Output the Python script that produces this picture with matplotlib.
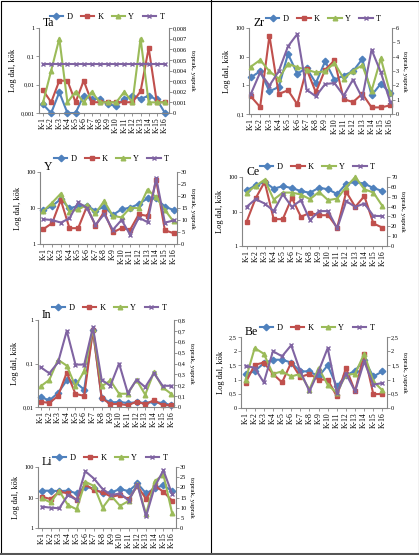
import matplotlib.pyplot as plt
import numpy as np
from matplotlib.lines import Line2D
from matplotlib.ticker import FixedLocator, FuncFormatter, NullLocator

plt.rcParams['font.family'] = ['Liberation Serif', 'DejaVu Serif']

W, H = 419, 555
stations = ["K-%d" % i for i in range(1, 17)]

# D = dal, K = kok (left axis) ; Y = yaprak, T = toprak (right axis)
ta_D = [0.002, 0.001, 0.0054, 0.001, 0.001, 0.0041, 0.0031, 0.0032, 0.002, 0.0018, 0.0032, 0.004, 0.0032, 0.004, 0.003, 0.001]
ta_K = [0.0063, 0.0024, 0.0138, 0.0138, 0.0024, 0.0138, 0.0024, 0.0024, 0.0024, 0.0024, 0.0024, 0.0024, 0.0058, 0.196, 0.0024, 0.0024]
ta_Y = [0.001, 0.004, 0.007, 0.001, 0.002, 0.001, 0.002, 0.001, 0.001, 0.001, 0.002, 0.001, 0.007, 0.001, 0.001, 0.001]
ta_T = [0.0046] * 16

zr_D = [1.9, 3.1, 0.62, 0.87, 12.4, 2.55, 4.0, 1.2, 6.9, 1.58, 2.2, 3.1, 8.3, 0.45, 1.14, 0.54]
zr_K = [0.41, 0.175, 54, 0.5, 0.67, 0.22, 3.7, 0.57, 3.5, 7.4, 0.33, 0.26, 0.51, 0.17, 0.17, 0.2]
zr_Y = [3.3, 3.77, 2.98, 2.47, 3.51, 3.26, 3.09, 2.9, 2.98, 3.56, 2.47, 3.02, 3.4, 1.63, 3.88, 1.47]
zr_T = [1.4, 2.9, 1.98, 2.98, 4.72, 5.58, 1.7, 1.23, 2.09, 2.16, 1.28, 2.4, 1.12, 4.49, 2.9, 0.86]

y_D = [8.8, 11.4, 17.7, 9.8, 11.4, 11.6, 8.4, 10.9, 6.4, 9.2, 10.2, 12.9, 18.5, 18.5, 10.9, 8.8]
y_K = [2.6, 3.8, 16.6, 2.75, 2.75, 10.9, 3.2, 7.9, 2.1, 2.75, 2.5, 6.7, 6.0, 59, 2.4, 2.0]
y_Y = [13.8, 17.2, 21.0, 13.5, 14.4, 16.2, 12.8, 17.9, 11.7, 11.1, 15.1, 14.9, 22.7, 19.4, 14.2, 9.4]
y_T = [10.3, 10.0, 8.9, 10.7, 17.3, 15.1, 8.0, 12.4, 5.9, 10.0, 3.9, 11.0, 9.1, 27.5, 8.9, 9.8]

ce_D = [41, 57, 72, 46, 54, 48, 39, 35, 49, 44, 32, 64, 72, 64, 48, 39]
ce_K = [5.0, 24, 72, 6.0, 6.0, 25, 7.0, 9.2, 7.8, 7.8, 3.4, 37, 13.6, 28, 4.5, 3.4]
ce_Y = [53.9, 60.9, 67.3, 47.1, 54.2, 54.2, 52.2, 47.5, 54.9, 46.5, 48.1, 59.9, 70.0, 57.6, 54.2, 40.4]
ce_T = [39.7, 47.5, 43.1, 35.4, 52.5, 39.7, 46.5, 26.3, 35.4, 35.4, 17.8, 45.5, 39.7, 43.1, 30.6, 30.3]

in_D = [0.017, 0.0142, 0.021, 0.041, 0.037, 0.025, 0.59, 0.016, 0.0128, 0.013, 0.0124, 0.0128, 0.0124, 0.013, 0.0124, 0.011]
in_K = [0.0132, 0.0124, 0.018, 0.062, 0.020, 0.018, 0.59, 0.016, 0.0117, 0.0117, 0.011, 0.0132, 0.0117, 0.0142, 0.011, 0.011]
in_Y = [0.19, 0.25, 0.434, 0.38, 0.19, 0.33, 0.72, 0.19, 0.244, 0.122, 0.122, 0.25, 0.113, 0.32, 0.18, 0.12]
in_T = [0.366, 0.31, 0.41, 0.70, 0.39, 0.39, 0.733, 0.25, 0.195, 0.40, 0.128, 0.25, 0.183, 0.31, 0.195, 0.195]

be_D = [1.2, 1.29, 1.58, 1.7, 1.7, 1.6, 1.29, 1.29, 1.11, 1.5, 0.76, 1.15, 1.31, 1.7, 1.11, 1.29]
be_K = [0.88, 1.52, 1.6, 1.2, 0.9, 1.6, 1.09, 1.2, 1.0, 1.0, 0.41, 1.41, 0.59, 1.91, 0.49, 0.49]
be_Y = [1.0, 2.11, 1.91, 1.2, 1.29, 1.11, 1.2, 0.65, 1.41, 0.82, 0.53, 1.17, 1.2, 1.91, 0.94, 0.62]
be_T = [1.49, 1.41, 0.9, 2.0, 1.82, 2.21, 1.29, 0.59, 1.29, 2.11, 0.53, 1.21, 0.59, 1.64, 0.82, 0.88]

li_D = [16.7, 16.7, 16.2, 16.7, 13.7, 22.5, 19.8, 13.7, 14.7, 18.9, 16.2, 28.8, 13.7, 19.8, 25.4, 16.2]
li_K = [10.6, 8.9, 15.5, 13.7, 8.3, 26.7, 17.5, 14.7, 10.6, 12.1, 8.9, 24.2, 8.9, 24.2, 15.5, 7.9]
li_Y = [14.6, 12.6, 18.2, 11.3, 9.2, 22.7, 20.7, 10.0, 15.7, 10.9, 13.3, 21.6, 6.8, 23.0, 26.3, 7.3]
li_T = [10.5, 10.0, 9.7, 16.2, 13.8, 27.9, 24.3, 19.1, 16.2, 17.0, 13.5, 21.4, 5.7, 20.3, 28.4, 16.7]

COLORS = {"D": "#4F81BD", "K": "#C0504D", "Y": "#9BBB59", "T": "#8064A2"}
MARKERS = {"D": "D", "K": "s", "Y": "^", "T": "x"}
GREY = "#868686"


def comma(v, pos=None):
    return ("%g" % v).replace(".", ",")


# name, plot box px (x0, x1, top, bottom), series, left scale, left lim, right lim/step, x pad, legend y px
panels = [
    ("Ta", (39, 169, 28, 113), (ta_D, ta_K, ta_Y, ta_T), "log", (0.001, 1), (0.008, 0.001), 0.5, 17),
    ("Zr", (249, 392, 28, 114), (zr_D, zr_K, zr_Y, zr_T), "log", (0.1, 100), (6, 1), 0.2, 19),
    ("Y", (40, 177, 172, 244), (y_D, y_K, y_Y, y_T), "log", (1, 100), (30, 5), 0.4, 159),
    ("Ce", (242, 387, 177, 246), (ce_D, ce_K, ce_Y, ce_T), "log", (1, 100), (70, 10), 0.5, 167),
    ("In", (38, 174, 320, 407), (in_D, in_K, in_Y, in_T), "log", (0.01, 1), (0.8, 0.1), 0.3, 308),
    ("Be", (241, 387, 337, 408), (be_D, be_K, be_Y, be_T), "linear", (0, 2.5), (2.5, 0.5), 0.5, 328),
    ("Li", (38, 176, 467, 528), (li_D, li_K, li_Y, li_T), "log", (1, 100), (30, 5), 0.45, 458),
]

fig = plt.figure(figsize=(W / 100, H / 100), dpi=100)
x = np.arange(len(stations))

for name, box, series, scale, llim, rlim, pad, ly in panels:
    x0, x1, top, bot = box
    ax = fig.add_axes([x0 / W, 1 - bot / H, (x1 - x0) / W, (bot - top) / H])
    ax2 = ax.twinx()
    handles = []
    for key, vals, a in zip("DKYT", series, (ax, ax, ax2, ax2)):
        h, = a.plot(x, vals, color=COLORS[key], marker=MARKERS[key], ms=3.3,
                    mec=COLORS[key], mew=1.0, lw=1.5, clip_on=False, label=key)
        handles.append(h)

    ax.set_yscale(scale)
    ax.set_ylim(*llim)
    if scale == "log":
        lt = 10.0 ** np.arange(np.log10(llim[0]), np.log10(llim[1]) + 0.5)
    else:
        lt = np.arange(llim[0], llim[1] + 1e-9, 0.5)
    ax.yaxis.set_major_locator(FixedLocator(lt))
    ax.yaxis.set_minor_locator(NullLocator())
    ax.yaxis.set_major_formatter(FuncFormatter(comma))

    ax2.set_ylim(0, rlim[0])
    ax2.yaxis.set_major_locator(FixedLocator(np.arange(0, rlim[0] + rlim[1] / 2, rlim[1])))
    ax2.yaxis.set_major_formatter(FuncFormatter(comma))

    ax.set_xlim(-pad, len(stations) - 1 + pad)
    ax.set_xticks(x)
    ax.set_xticklabels(stations, rotation=90, fontsize=5.5)

    for a in (ax, ax2):
        a.spines["top"].set_visible(False)
        for s in ("left", "right", "bottom"):
            a.spines[s].set_color(GREY)
            a.spines[s].set_linewidth(0.8)
        a.tick_params(length=2, width=0.6, color=GREY, pad=1)
        a.tick_params(axis="y", labelsize=4.5)
    ax2.spines["left"].set_visible(False)
    ax2.spines["bottom"].set_visible(False)
    ax.spines["right"].set_visible(False)

    ax.set_ylabel("Log dal, kök", fontsize=6, labelpad=3)
    ax2.set_ylabel("toprak, yaprak", fontsize=5, rotation=270, va="bottom", labelpad=2)

    fig.text((x0 + 4) / W, 1 - (top + 1) / H, name, fontsize=8.5, ha="left", va="bottom")
    fig.legend(handles, list("DKYT"), loc="center", ncol=4, frameon=False,
               bbox_to_anchor=((x0 + x1) / 2 / W + 3 / W, 1 - ly / H),
               fontsize=6, handlelength=1.6, handletextpad=0.4, columnspacing=1.0,
               borderaxespad=0, borderpad=0)

# frame and divider
fig.add_artist(Line2D([211 / W, 211 / W], [0, 1], color="black", lw=0.8))
fig.add_artist(Line2D([0.5 / W, 0.5 / W, 418.5 / W, 418.5 / W, 0.5 / W],
                      [0.5 / H, 554.5 / H, 554.5 / H, 0.5 / H, 0.5 / H], color="black", lw=0.8))
fig.add_artist(Line2D([0, 1], [1.5 / H, 1.5 / H], color="#555555", lw=2.2))

fig.savefig("out.png", dpi=100)
